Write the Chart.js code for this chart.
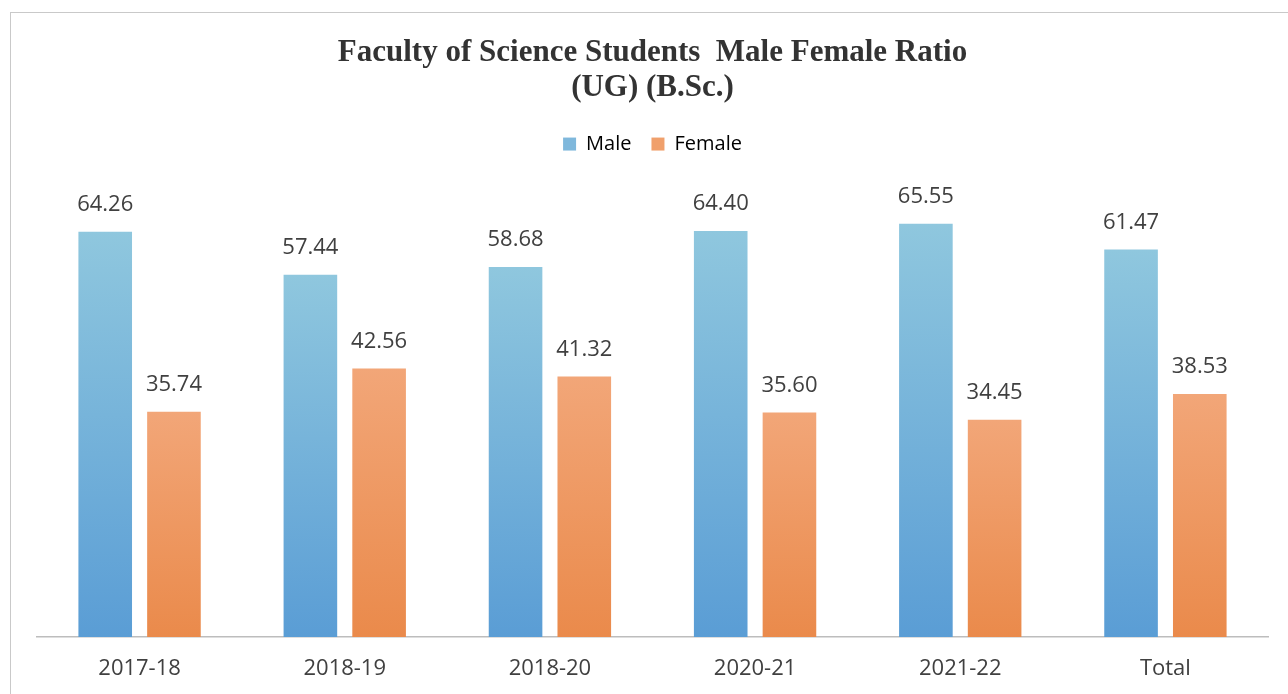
<!DOCTYPE html>
<html lang="en">
<head>
    <meta charset="UTF-8">
    <title>Faculty of Science Students Male Female Ratio</title>
    <style>
        body {
            margin: 0;
            padding: 0;
            background: #fff;
        }
        .frame {
            position: absolute;
            left: 10px;
            top: 12px;
            width: 1278px;
            height: 682px;
            border-top: 1px solid #c9c9c9;
            border-left: 1px solid #c9c9c9;
            pointer-events: none;
        }
        .chartBox {
            position: absolute;
            left: 0;
            top: 0;
            width: 1288px;
            height: 694px;
        }
    </style>
</head>
<body>
    <div class="chartBox">
        <canvas id="myChart"></canvas>
    </div>
    <div class="frame"></div>

    <script src="https://cdn.jsdelivr.net/npm/chart.js/dist/chart.umd.min.js"></script>
    <script>
        // data
        const years = ['2017-18', '2018-19', '2018-20', '2020-21', '2021-22', 'Total']
        const male = [64.26, 57.44, 58.68, 64.40, 65.55, 61.47]
        const female = [35.74, 42.56, 41.32, 35.60, 34.45, 38.53]

        // per-bar vertical gradient, light at top, darker at bottom
        function barGradient(topColor, bottomColor) {
            return (context) => {
                const chart = context.chart
                const area = chart.chartArea
                if (!area || context.raw === undefined) return bottomColor
                const yTop = chart.scales.y.getPixelForValue(context.raw)
                const g = chart.ctx.createLinearGradient(0, yTop, 0, area.bottom)
                g.addColorStop(0, topColor)
                g.addColorStop(1, bottomColor)
                return g
            }
        }

        // value labels above bars
        const valueLabels = {
            id: 'valueLabels',
            afterDatasetsDraw(chart) {
                const ctx = chart.ctx
                ctx.save()
                ctx.font = '22px "Open Sans"'
                ctx.fillStyle = '#404040'
                ctx.textAlign = 'center'
                ctx.textBaseline = 'middle'
                chart.data.datasets.forEach((ds, i) => {
                    chart.getDatasetMeta(i).data.forEach((bar, j) => {
                        ctx.fillText(ds.data[j].toFixed(2), bar.x, bar.y - 27)
                    })
                })
                ctx.restore()
            }
        }

        const data = {
            labels: years,
            datasets: [{
                label: 'Male',
                data: male,
                backgroundColor: barGradient('#8fc7de', '#5a9dd5'),
                legendColor: '#7fb8dc'
            }, {
                label: 'Female',
                data: female,
                backgroundColor: barGradient('#f2a678', '#ea8a4b'),
                legendColor: '#f0a06c'
            }]
        }

        const config = {
            type: 'bar',
            data: data,
            options: {
                responsive: false,
                animation: false,
                layout: {
                    padding: { top: 35, left: 37, right: 20, bottom: 13 }
                },
                datasets: {
                    bar: {
                        barPercentage: 0.78,
                        categoryPercentage: 0.67
                    }
                },
                plugins: {
                    title: {
                        display: true,
                        text: ['Faculty of Science Students  Male Female Ratio', '(UG) (B.Sc.)'],
                        color: '#333333',
                        font: { family: '"Liberation Serif"', size: 31, weight: 'bold', lineHeight: 1.13 },
                        padding: { top: 0, bottom: 9 }
                    },
                    legend: {
                        display: true,
                        labels: {
                            color: '#505050',
                            font: { family: '"Open Sans"', size: 20 },
                            boxWidth: 13,
                            boxHeight: 13,
                            padding: 20,
                            generateLabels(chart) {
                                return chart.data.datasets.map((ds, i) => ({
                                    text: ds.label,
                                    fillStyle: ds.legendColor,
                                    strokeStyle: ds.legendColor,
                                    lineWidth: 0,
                                    datasetIndex: i
                                }))
                            }
                        }
                    },
                    tooltip: { enabled: false }
                },
                scales: {
                    x: {
                        grid: {
                            display: false,
                            drawTicks: false
                        },
                        border: {
                            display: true,
                            color: '#bdbdbd',
                            width: 1.5
                        },
                        ticks: {
                            color: '#404040',
                            font: { family: '"Open Sans"', size: 22 },
                            padding: 19
                        },
                        afterFit: (scale) => {
                            scale.height = 44
                        }
                    },
                    y: {
                        display: false,
                        min: 0,
                        max: 75
                    }
                }
            },
            plugins: [valueLabels]
        }

        const canvas = document.getElementById('myChart')
        canvas.width = 1288
        canvas.height = 694
        const myChart = new Chart(canvas, config)
    </script>
</body>
</html>
